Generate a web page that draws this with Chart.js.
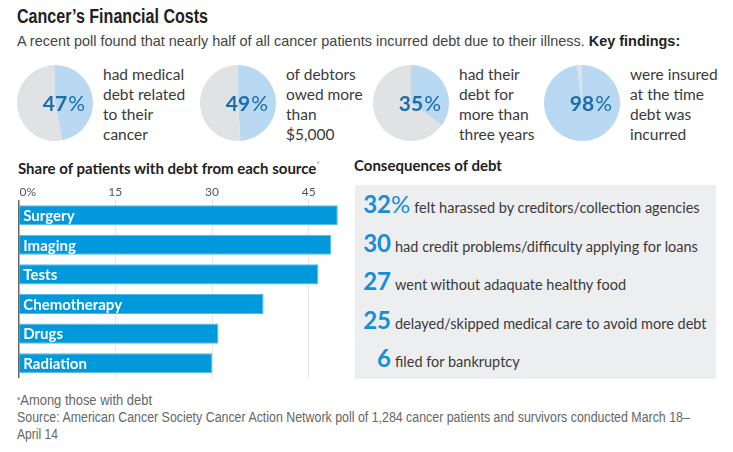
<!DOCTYPE html>
<html>
<head>
<meta charset="utf-8">
<script src="https://cdn.jsdelivr.net/npm/chart.js@4.4.0/dist/chart.umd.min.js"></script>
<style>
  html, body { margin: 0; padding: 0; background: #fff; }
  #page { position: relative; width: 733px; height: 452px; overflow: hidden; font-family: Lato, "Noto Sans", sans-serif; color: #333; }
  .abs { position: absolute; }
  .narrow { font-family: "Liberation Sans Narrow", "Liberation Sans", sans-serif; white-space: nowrap; display: inline-block; transform-origin: left center; }
  .note { font-size: 15.5px; line-height: 20px; color: #3a3a3a; white-space: nowrap; }
  .head { font-weight: bold; white-space: nowrap; color: #222; }
  #panel { left: 355px; top: 185px; width: 361px; height: 194px; background: #edeef0; }
  .row { position: absolute; left: 355px; display: flex; align-items: baseline; white-space: nowrap; }
  .row .num { display: inline-block; width: 36px; text-align: right; font-weight: bold; font-size: 24px; line-height: 24px; color: #1590d8; }
  .row .pct { font-size: 24px; line-height: 24px; color: #1590d8; }
  .row .txt { margin-left: 4px; font-size: 14.5px; color: #3a3a3a; }
  .foot { font-size: 14px; line-height: 17px; color: #666; }
</style>
</head>
<body>
<div id="page">
  <div class="abs narrow" style="left:17px; top:4px; font-size:20px; line-height:24px; font-weight:bold; color:#222;" data-w="191">Cancer’s Financial Costs</div>
  <div class="abs narrow" style="left:17px; top:32px; font-size:15px; line-height:18px; color:#444;" data-w="663">A recent poll found that nearly half of all cancer patients incurred debt due to their illness. <b style="color:#222">Key findings:</b></div>

  <div class="abs head" style="left:18px; top:156px; font-size:15px; line-height:18px;">Share of patients with debt from each source<sup style="font-weight:normal; color:#999; font-size:9px;">*</sup></div>
  <div class="abs" style="left:0; top:180px; width:350px; height:200px;"><canvas id="bars" width="350" height="200"></canvas></div>

  <div class="abs head" style="left:354px; top:156px; font-size:15px; line-height:18px;">Consequences of debt</div>
  <div class="abs" id="panel"></div>

  <div class="abs narrow foot" style="left:17px; top:392px;" data-w="135"><span style="font-size:9px; vertical-align:top;">*</span>Among those with debt</div>
  <div class="abs narrow foot" style="left:17px; top:409px;" data-w="673">Source: American Cancer Society Cancer Action Network poll of 1,284 cancer patients and survivors conducted March 18–</div>
  <div class="abs narrow foot" style="left:17px; top:426px;" data-w="41">April 14</div>
</div>
<script>
// key findings (pies)
const pieValues = [47, 49, 35, 98];
const pieNotes = [
  ['had medical', 'debt related', 'to their', 'cancer'],
  ['of debtors', 'owed more', 'than', '$5,000'],
  ['had their', 'debt for', 'more than', 'three years'],
  ['were insured', 'at the time', 'debt was', 'incurred']
];

// share of patients with debt from each source
const sources = ['Surgery', 'Imaging', 'Tests', 'Chemotherapy', 'Drugs', 'Radiation'];
const shares = [49.5, 48.5, 46.5, 38, 31, 30];
const tickStep = 15;
const axisMax = 50;

// consequences of debt
const consValues = [32, 30, 27, 25, 6];
const consTexts = [
  'felt harassed by creditors/collection agencies',
  'had credit problems/difficulty applying for loans',
  'went without adaquate healthy food',
  'delayed/skipped medical care to avoid more debt',
  'filed for bankruptcy'
];

const page = document.getElementById('page');
const pieX = [17, 200, 373, 544];
const noteX = [103, 286, 459, 630];

// percent in the middle of each pie, % hangs after the digits
const pctLabel = {
  id: 'pctLabel',
  afterDraw(chart) {
    const ctx = chart.ctx;
    const arc = chart.getDatasetMeta(0).data[0];
    const v = String(chart.data.datasets[0].data[0]);
    ctx.save();
    ctx.fillStyle = '#1b6ea9';
    ctx.textBaseline = 'middle';
    ctx.font = 'bold 21px Lato';
    const w = ctx.measureText(v).width;
    ctx.fillText(v, arc.x - w / 2, arc.y + 1);
    ctx.font = '21px Lato';
    ctx.fillText('%', arc.x + w / 2 + 1, arc.y + 1);
    ctx.restore();
  }
};

pieValues.forEach(function(v, i) {
  const box = document.createElement('div');
  box.className = 'abs';
  box.style.left = pieX[i] + 'px';
  box.style.top = '65px';
  box.innerHTML = '<canvas width="76" height="76"></canvas>';
  page.appendChild(box);

  new Chart(box.querySelector('canvas'), {
    type: 'pie',
    data: {
      labels: ['yes', 'no'],
      datasets: [{
        data: [v, 100 - v],
        backgroundColor: ['#b9d8f1', '#e1e2e4'],
        borderWidth: 0
      }]
    },
    options: {
      responsive: false,
      animation: false,
      plugins: { legend: { display: false }, tooltip: { enabled: false } }
    },
    plugins: [pctLabel]
  });

  const note = document.createElement('div');
  note.className = 'abs note';
  note.style.left = noteX[i] + 'px';
  note.style.top = '64px';
  note.innerHTML = pieNotes[i].join('<br>');
  page.appendChild(note);
});

// category names written inside the bars
const barLabels = {
  id: 'barLabels',
  afterDatasetsDraw(chart) {
    const ctx = chart.ctx;
    ctx.save();
    ctx.font = 'bold 15px Lato';
    ctx.fillStyle = '#fff';
    ctx.textBaseline = 'middle';
    chart.getDatasetMeta(0).data.forEach(function(bar, i) {
      ctx.fillText(chart.data.labels[i], bar.base + 4, bar.y + 1);
    });
    ctx.restore();
  }
};

new Chart(document.getElementById('bars'), {
  type: 'bar',
  data: {
    labels: sources,
    datasets: [{
      data: shares,
      backgroundColor: '#0099db',
      borderColor: '#55b9e8',
      borderWidth: 1,
      barPercentage: 0.68,
      categoryPercentage: 1
    }]
  },
  options: {
    indexAxis: 'y',
    responsive: false,
    animation: false,
    layout: { padding: { left: 18, right: 9, top: 4, bottom: 2 } },
    scales: {
      x: {
        position: 'top',
        min: 0,
        max: axisMax,
        border: { display: false },
        grid: {
          drawTicks: false,
          color: ctx => ctx.tick && ctx.tick.value === 0 ? '#666' : '#e6e6e6',
          lineWidth: ctx => ctx.tick && ctx.tick.value === 0 ? 1.5 : 1
        },
        ticks: {
          stepSize: tickStep,
          includeBounds: false,
          padding: 1,
          maxRotation: 0,
          color: '#555',
          font: { family: 'Lato', size: 12 },
          callback: v => v === 0 ? '      0%' : String(v)
        }
      },
      y: { display: false }
    },
    plugins: { legend: { display: false }, tooltip: { enabled: false } }
  },
  plugins: [barLabels]
});

// consequences rows
consValues.forEach(function(v, i) {
  const row = document.createElement('div');
  row.className = 'row';
  row.style.top = (192 + i * 38.5) + 'px';
  row.innerHTML = '<span class="num">' + v + '</span>' +
    (i === 0 ? '<span class="pct">%</span>' : '') +
    '<span class="txt">' + consTexts[i] + '</span>';
  page.appendChild(row);
});

// squeeze the narrow texts to the reference widths
document.querySelectorAll('[data-w]').forEach(function(el) {
  const w = el.getBoundingClientRect().width;
  el.style.transform = 'scaleX(' + (el.dataset.w / w).toFixed(3) + ')';
});
</script>
</body>
</html>
